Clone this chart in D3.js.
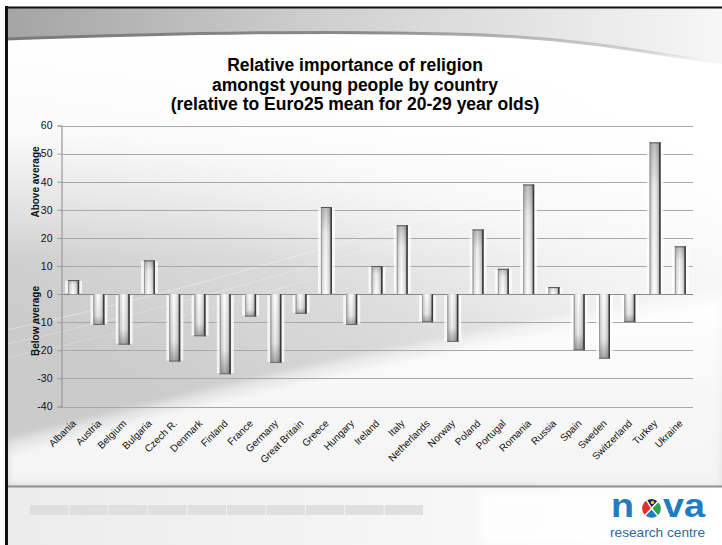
<!DOCTYPE html>
<html>
<head>
<meta charset="utf-8">
<script src="https://cdn.jsdelivr.net/npm/d3@7"></script>
<style>
  html, body { margin: 0; padding: 0; background: #fff; }
  svg { display: block; }
  text { font-family: "Liberation Sans", Arial, sans-serif; }
</style>
</head>
<body>
<svg id="chart" width="722" height="545"></svg>
<script>
// Relative importance of religion, 20-29 year olds, vs Euro25 mean
const countries = ["Albania", "Austria", "Belgium", "Bulgaria", "Czech R.", "Denmark", "Finland",
  "France", "Germany", "Great Britain", "Greece", "Hungary", "Ireland", "Italy", "Netherlands",
  "Norway", "Poland", "Portugal", "Romania", "Russia", "Spain", "Sweden", "Switzerland",
  "Turkey", "Ukraine"];
const values = [5, -11, -18, 12, -24, -15, -28.5, -8, -24.5, -7, 31, -11, 10, 24.5, -10,
  -17, 23, 9, 39, 2.5, -20, -23, -10, 54, 17];
const yTicks = [-40, -30, -20, -10, 0, 10, 20, 30, 40, 50, 60];
const titleLines = ["Relative importance of religion",
  "amongst young people by country",
  "(relative to Euro25 mean for 20-29 year olds)"];
const footerTiles = d3.range(10);

const svg = d3.select("#chart");
const defs = svg.append("defs");

function linGrad(id, x1, y1, x2, y2, stops) {
  const g = defs.append("linearGradient").attr("id", id)
    .attr("x1", x1).attr("y1", y1).attr("x2", x2).attr("y2", y2);
  stops.forEach(s => g.append("stop").attr("offset", s[0]).attr("stop-color", s[1])
    .attr("stop-opacity", s[2] === undefined ? 1 : s[2]));
}

linGrad("slideBg", 0.25, 0.75, 0.75, 0.1, [[0, "#cbcbcb"], [0.35, "#dadada"], [0.65, "#f2f2f2"], [1, "#ffffff"]]);
linGrad("topFade", 0, 0, 0, 1, [[0, "#ffffff", 1], [0.45, "#ffffff", 0.85], [1, "#ffffff", 0]]);
linGrad("swoosh", 0, 0, 0, 1, [[0, "#ffffff", 1], [0.5, "#f7f7f7", 1], [1, "#f4f4f4", 1]]);
linGrad("banner", 0, 0, 1, 0, [[0, "#a4a4a4"], [0.45, "#d0d0d0"], [1, "#f6f6f6"]]);
linGrad("bannerEdge", 0, 0, 1, 0, [[0, "#7a7a7a", 1], [0.5, "#8a8a8a", 1], [0.9, "#bbbbbb", 0.6], [1, "#dddddd", 0]]);
linGrad("footerBg", 0, 0, 1, 0, [[0, "#ececec"], [0.6, "#f6f6f6"], [1, "#ffffff"]]);
linGrad("barFill", 0, 0, 1, 0, [[0, "#a9a9a9"], [0.12, "#d9d9d9"], [0.42, "#ffffff"], [0.7, "#e2e2e2"], [0.86, "#b9b9b9"], [1, "#8a8a8a"]]);
linGrad("capDown", 0, 0, 0, 1, [[0, "#000", 0], [0.7, "#000", 0.08], [1, "#000", 0.35]]);
linGrad("capUp", 0, 1, 0, 0, [[0, "#000", 0], [0.7, "#000", 0.06], [1, "#000", 0.25]]);

const blur = defs.append("filter").attr("id", "soft").attr("x", "-10%").attr("y", "-10%").attr("width", "120%").attr("height", "120%");
blur.append("feGaussianBlur").attr("stdDeviation", 4);

// ---- slide background ----
svg.append("rect").attr("x", 6).attr("y", 7).attr("width", 716).attr("height", 538).attr("fill", "url(#slideBg)");
svg.append("rect").attr("x", 6).attr("y", 30).attr("width", 716).attr("height", 230).attr("fill", "url(#topFade)");
// light swoosh across the lower part
svg.append("path")
  .attr("d", "M6,450 C160,410 380,352 722,300 L722,486 L6,486 Z")
  .attr("fill", "url(#swoosh)").attr("filter", "url(#soft)");
svg.append("path")
  .attr("d", "M6,446 C160,406 380,348 722,296")
  .attr("fill", "none").attr("stroke", "#ffffff").attr("stroke-width", 5).attr("opacity", 0.9).attr("filter", "url(#soft)");
// faint arcs
[[0, 0.35], [14, 0.25], [28, 0.2]].forEach(([dy, op]) => {
  svg.append("path")
    .attr("d", `M6,${330 + dy} C150,${300 + dy} 320,${250 + dy} 520,${190 + dy}`)
    .attr("fill", "none").attr("stroke", "#ffffff").attr("stroke-width", 1).attr("opacity", op);
});

// top banner
svg.append("path")
  .attr("d", "M6,8 L722,8 L722,64 C640,50 560,36 450,34 C320,30 150,34 6,39 Z")
  .attr("fill", "url(#banner)");
svg.append("path")
  .attr("d", "M6,39 C150,34 320,30 450,34 C560,36 640,50 722,64")
  .attr("fill", "none").attr("stroke", "url(#bannerEdge)").attr("stroke-width", 3);

// footer
svg.append("rect").attr("x", 6).attr("y", 487).attr("width", 716).attr("height", 58).attr("fill", "url(#footerBg)");
svg.append("rect").attr("x", 480).attr("y", 492).attr("width", 242).attr("height", 53).attr("fill", "#ffffff").attr("opacity", 0.8).attr("filter", "url(#soft)");
svg.append("line").attr("x1", 6).attr("x2", 722).attr("y1", 486.5).attr("y2", 486.5)
  .attr("stroke", "#8f8f8f").attr("stroke-width", 2);
const tileX = d3.scaleBand().domain(footerTiles).range([30, 423]).paddingInner(0.03);
svg.append("g").selectAll("rect").data(footerTiles).join("rect")
  .attr("x", d => tileX(d)).attr("y", 505).attr("width", tileX.bandwidth()).attr("height", 10)
  .attr("fill", "#dfdfdf");

// frame
svg.append("line").attr("x1", 6.5).attr("x2", 6.5).attr("y1", 6).attr("y2", 545).attr("stroke", "#111").attr("stroke-width", 3);
svg.append("line").attr("x1", 5).attr("x2", 722).attr("y1", 7.5).attr("y2", 7.5).attr("stroke", "#111").attr("stroke-width", 2);

// ---- chart ----
const x = d3.scaleBand().domain(countries).range([61, 693]).paddingInner(0.565).paddingOuter(0.2825);
const y = d3.scaleLinear().domain([-40, 60]).range([406.5, 125.5]);

// gridlines
svg.append("g").selectAll("line").data(yTicks).join("line")
  .attr("x1", 61).attr("x2", 693)
  .attr("y1", d => Math.round(y(d)) + 0.5).attr("y2", d => Math.round(y(d)) + 0.5)
  .attr("stroke", d => d === 0 ? "#8a8a8a" : "#a8a8a8").attr("stroke-width", 1.2);

// y axis
const yAxis = svg.append("g").attr("transform", "translate(61.5,0)")
  .call(d3.axisLeft(y).tickValues(yTicks).tickSize(4).tickPadding(5).tickFormat(d => String(d)));
yAxis.select(".domain").attr("stroke", "#999").attr("stroke-width", 1.2);
yAxis.selectAll(".tick line").attr("stroke", "#999");
yAxis.selectAll(".tick text").attr("font-size", 10.5).attr("fill", "#111")
  .style("font-family", "'Liberation Sans', Arial, sans-serif");

// halo behind bars (gridlines fade out next to each bar)
const bw = x.bandwidth();
svg.append("g").selectAll("rect").data(countries).join("rect")
  .attr("x", d => x(d) - 3).attr("width", bw + 6)
  .attr("y", (d, i) => y(Math.max(0, values[i])) + 1)
  .attr("height", (d, i) => Math.max(0, Math.abs(y(values[i]) - y(0)) - 2))
  .attr("fill", "#ffffff").attr("opacity", 0.75);

// bars
const bars = svg.append("g");
countries.forEach((c, i) => {
  const v = values[i];
  const top = y(Math.max(0, v)), bot = y(Math.min(0, v));
  const h = bot - top;
  const g = bars.append("g");
  g.append("rect").attr("x", x(c)).attr("y", top).attr("width", bw).attr("height", h)
    .attr("fill", "url(#barFill)");
  // darkening toward the far end
  g.append("rect").attr("x", x(c)).attr("y", top).attr("width", bw).attr("height", h)
    .attr("fill", v >= 0 ? "url(#capUp)" : "url(#capDown)");
  // left rim
  g.append("line").attr("x1", x(c) + 0.5).attr("x2", x(c) + 0.5).attr("y1", top).attr("y2", bot)
    .attr("stroke", "#9a9a9a").attr("stroke-width", 1);
  // dark right rim
  g.append("line").attr("x1", x(c) + bw - 0.75).attr("x2", x(c) + bw - 0.75).attr("y1", top).attr("y2", bot)
    .attr("stroke", "#3a3a3a").attr("stroke-width", 1.5);
  // end edge
  const endY = v >= 0 ? top + 0.5 : bot - 0.5;
  g.append("line").attr("x1", x(c)).attr("x2", x(c) + bw).attr("y1", endY).attr("y2", endY)
    .attr("stroke", v >= 0 ? "#555" : "#6a6a6a").attr("stroke-width", 1);
});

// category labels
svg.append("g").selectAll("text").data(countries).join("text")
  .attr("transform", d => `translate(${x(d) + bw / 2 + 3},${424}) rotate(-45)`)
  .attr("text-anchor", "end").attr("font-size", 10).attr("fill", "#111")
  .text(d => d);

// axis titles
svg.append("text").attr("transform", "translate(39,182) rotate(-90)")
  .attr("text-anchor", "middle").attr("font-size", 10).attr("font-weight", "bold").attr("fill", "#111")
  .text("Above average");
svg.append("text").attr("transform", "translate(39,321) rotate(-90)")
  .attr("text-anchor", "middle").attr("font-size", 10).attr("font-weight", "bold").attr("fill", "#111")
  .text("Below average");

// title
svg.append("g").selectAll("text").data(titleLines).join("text")
  .attr("x", 355).attr("y", (d, i) => 71 + i * 19.5)
  .attr("text-anchor", "middle").attr("font-size", 17.5).attr("font-weight", "bold").attr("fill", "#000")
  .text(d => d);

// ---- logo ----
const logo = svg.append("g");
const logoBlue = "#1b7dc2";
logo.append("text").attr("x", 611).attr("y", 517).attr("font-size", 33)
  .attr("font-weight", "bold").attr("fill", logoBlue).attr("textLength", 23).attr("lengthAdjust", "spacingAndGlyphs")
  .text("n");
logo.append("text").attr("x", 663).attr("y", 517).attr("font-size", 33)
  .attr("font-weight", "bold").attr("fill", logoBlue).attr("textLength", 42).attr("lengthAdjust", "spacingAndGlyphs")
  .text("va");
const gc = [651.5, 508.5], gr = 10;
const arc = d3.arc().innerRadius(0).outerRadius(gr);
const segs = [
  { s: -0.55, e: 0.75, c: "#14245a" },   // top
  { s: 0.75, e: 2.45, c: "#2aa44a" },    // right
  { s: 2.45, e: 3.9, c: "#1b7dc2" },     // bottom
  { s: 3.9, e: 5.73, c: "#e0302a" }      // left
];
const globe = logo.append("g").attr("transform", `translate(${gc[0]},${gc[1]})`);
globe.selectAll("path").data(segs).join("path")
  .attr("d", d => arc({ startAngle: d.s, endAngle: d.e }))
  .attr("fill", d => d.c).attr("stroke", "#fff").attr("stroke-width", 1.3);
globe.append("circle").attr("cx", 1).attr("cy", -6).attr("r", 1.8).attr("fill", "#f5d000");
logo.append("text").attr("x", 610).attr("y", 537).attr("font-size", 13)
  .attr("fill", "#2d6aa3").attr("textLength", 95).attr("lengthAdjust", "spacingAndGlyphs")
  .text("research centre");
</script>
</body>
</html>
